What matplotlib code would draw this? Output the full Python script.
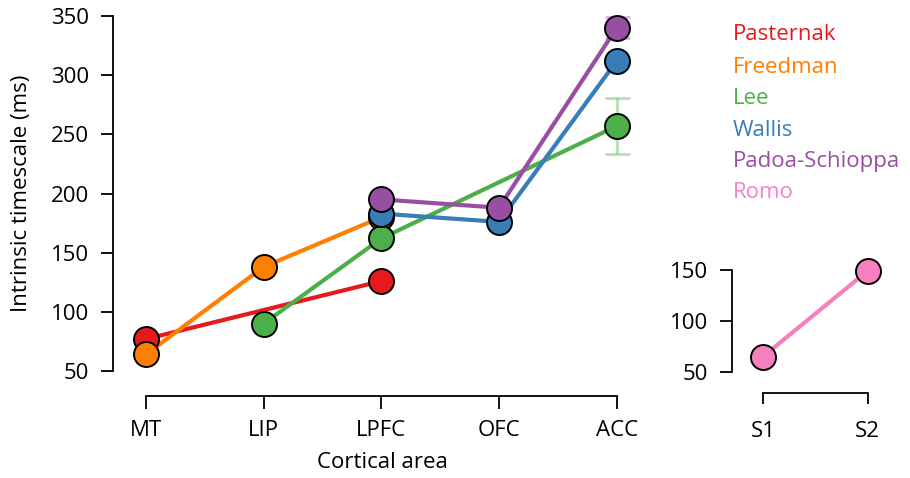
import matplotlib
matplotlib.use("Agg")
import matplotlib.pyplot as plt
import numpy as np

plt.rcParams['font.family'] = ['Open Sans', 'DejaVu Sans']

areas = ["MT", "LIP", "LPFC", "OFC", "ACC"]
names = ["Pasternak", "Freedman", "Lee", "Wallis", "Padoa-Schioppa", "Romo"]
colors = ["#e41a1c", "#ff7f00", "#4daf4a", "#377eb8", "#984ea3", "#f781bf"]

pasternak_areas = ["MT", "LPFC"]
pasternak_vals = [77, 126]
freedman_areas = ["MT", "LIP", "LPFC"]
freedman_vals = [64, 138, 180]
lee_areas = ["LIP", "LPFC", "ACC"]
lee_vals = [90, 162, 257]
lee_err = [0, 0, 24]
wallis_areas = ["LPFC", "OFC", "ACC"]
wallis_vals = [183, 176, 312]
padoa_areas = ["LPFC", "OFC", "ACC"]
padoa_vals = [195, 188, 340]
padoa_err = [0, 0, 9]

romo_areas = ["S1", "S2"]
romo_vals = [65, 149]

series = [
    (pasternak_areas, pasternak_vals, None),
    (freedman_areas, freedman_vals, None),
    (lee_areas, lee_vals, lee_err),
    (wallis_areas, wallis_vals, None),
    (padoa_areas, padoa_vals, padoa_err),
]

FS = 16
W, H = 910, 478
fig = plt.figure(figsize=(W / 100, H / 100), dpi=100)

ax = fig.add_axes([113 / W, (H - 371) / H, (652 - 113) / W, 355 / H])
ax.set_xlim(-0.28, 4.3)
ax.set_ylim(50, 350)

for (ar, vals, err), c in zip(series, colors):
    xs = [areas.index(a) for a in ar]
    if err is not None:
        for x, v, e in zip(xs, vals, err):
            if e > 0:
                ax.errorbar([x], [v], yerr=[e], color=c, alpha=0.4, lw=2,
                            capsize=9, capthick=2, fmt='none', zorder=1)
    ax.plot(xs, vals, '-', color=c, lw=3, zorder=2)
    ax.plot(xs, vals, 'o', color=c, ms=18, mec='black', mew=1.4, zorder=3,
            clip_on=False)

ax.set_xticks(range(len(areas)))
ax.set_xticklabels(areas)
ax.set_yticks([50, 100, 150, 200, 250, 300, 350])
for s in ["top", "right"]:
    ax.spines[s].set_visible(False)
ax.spines["bottom"].set_position(("outward", 18))
ax.spines["bottom"].set_bounds(0, 4)
ax.spines["left"].set_bounds(50, 350)
for s in ["bottom", "left"]:
    ax.spines[s].set_linewidth(1.3)
ax.tick_params(axis='y', direction='out', length=9, width=1.3,
               labelsize=FS, pad=8)
ax.tick_params(axis='x', direction='out', length=9, width=1.3,
               labelsize=FS, pad=8)
ax.set_ylabel("Intrinsic timescale (ms)", fontsize=FS, labelpad=14)
ax.set_xlabel("Cortical area", fontsize=FS, labelpad=8)

ax2 = fig.add_axes([732 / W, (H - 372) / H, (878 - 732) / W, 102 / H])
ax2.set_xlim(-0.295, 1.1)
ax2.set_ylim(50, 150)
ax2.plot(range(len(romo_areas)), romo_vals, '-', color=colors[5], lw=3, zorder=2)
ax2.plot(range(len(romo_areas)), romo_vals, 'o', color=colors[5], ms=18,
         mec='black', mew=1.4, zorder=3, clip_on=False)
ax2.set_xticks(range(len(romo_areas)))
ax2.set_xticklabels(romo_areas)
ax2.set_yticks([50, 100, 150])
for s in ["top", "right"]:
    ax2.spines[s].set_visible(False)
ax2.spines["bottom"].set_position(("outward", 15))
ax2.spines["bottom"].set_bounds(0, 1)
ax2.spines["left"].set_bounds(50, 150)
for s in ["bottom", "left"]:
    ax2.spines[s].set_linewidth(1.3)
ax2.tick_params(axis='y', direction='out', length=9, width=1.3,
                labelsize=FS, pad=8)
ax2.tick_params(axis='x', direction='out', length=8, width=1.3,
                labelsize=FS, pad=12)

legend_y = [35, 67, 98, 130, 162, 193]
for n, c, yy in zip(names, colors, legend_y):
    fig.text(733 / W, 1 - yy / H, n, color=c, fontsize=FS, ha='left', va='center')

fig.savefig("out.png", dpi=100)
